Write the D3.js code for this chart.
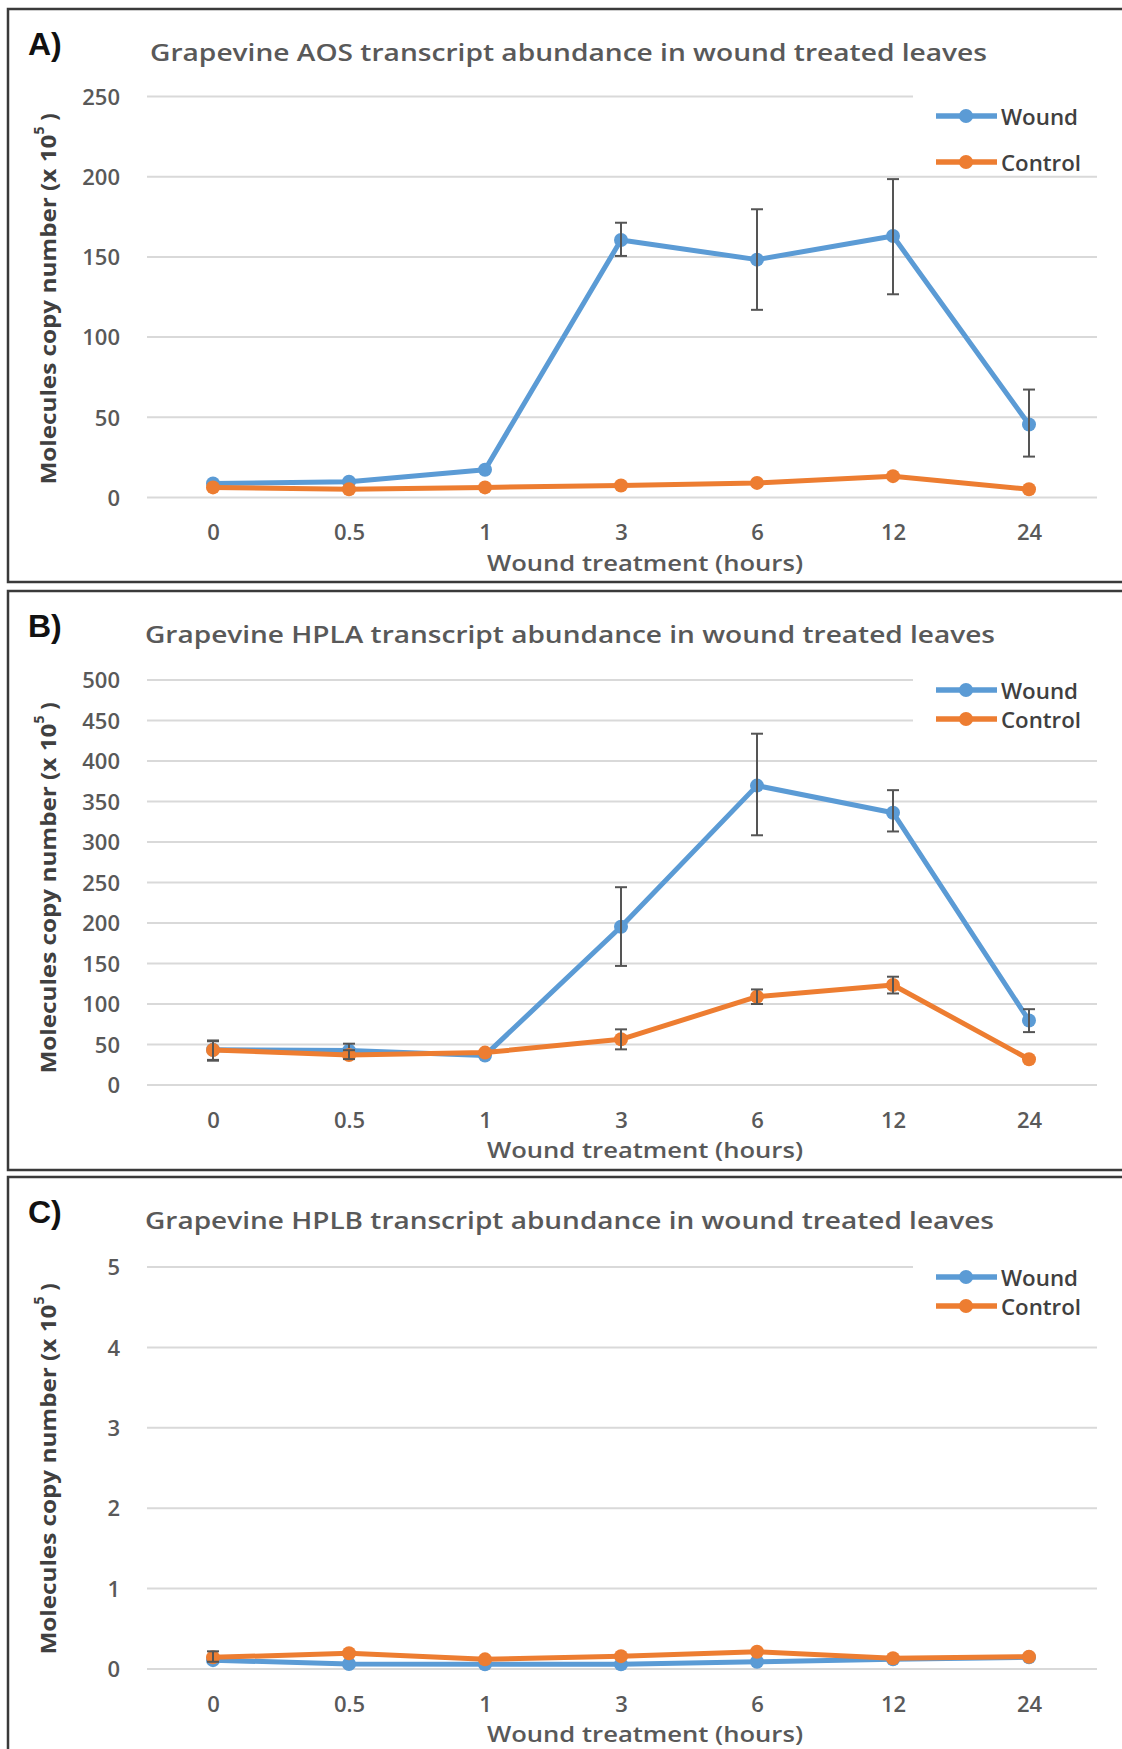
<!DOCTYPE html>
<html><head><meta charset="utf-8">
<script src="https://cdn.jsdelivr.net/npm/d3@7"></script>
<style>body{margin:0;background:#fff}svg{display:block}</style>
</head><body>
<script>
// ---------- DATA ----------
const categories = ["0","0.5","1","3","6","12","24"];
const seriesNames = ["Wound","Control"];

// Panel A: AOS
const aosTitle = "Grapevine AOS transcript abundance in wound treated leaves";
const aosTicks = [0,50,100,150,200,250];
const aosWound = [8.7, 9.8, 17.3, 160.5, 148.3, 163, 45.5];
const aosWoundLo = [null, null, null, 150.6, 117, 126.7, 25.5];
const aosWoundHi = [null, null, null, 171.3, 179.7, 198.5, 67.3];
const aosControl = [6.3, 5.1, 6.3, 7.5, 9.1, 13.3, 5.1];
const aosControlLo = [null, null, null, null, null, null, null];
const aosControlHi = [null, null, null, null, null, null, null];

// Panel B: HPLA
const hplaTitle = "Grapevine HPLA transcript abundance in wound treated leaves";
const hplaTicks = [0,50,100,150,200,250,300,350,400,450,500];
const hplaWound = [43.5, 42.5, 36.5, 195.4, 369.6, 336.2, 79.6];
const hplaWoundLo = [30, 34, null, 147, 308.3, 313, 65.3];
const hplaWoundHi = [55, 51, null, 244.2, 433.7, 364, 93.6];
const hplaControl = [43.2, 37, 40, 56.4, 109, 123.5, 31.8];
const hplaControlLo = [31, 32, null, 44, 100, 113, null];
const hplaControlHi = [54, 43, null, 68.7, 118, 133.7, null];

// Panel C: HPLB
const hplbTitle = "Grapevine HPLB transcript abundance in wound treated leaves";
const hplbTicks = [0,1,2,3,4,5];
const hplbWound = [0.11, 0.062, 0.058, 0.058, 0.09, 0.12, 0.145];
const hplbWoundLo = [null, null, null, null, null, null, null];
const hplbWoundHi = [null, null, null, null, null, null, null];
const hplbControl = [0.145, 0.195, 0.12, 0.16, 0.215, 0.133, 0.153];
const hplbControlLo = [0.09, null, null, null, null, null, null];
const hplbControlHi = [0.22, null, null, null, null, null, null];

const panelLabels = ["A)","B)","C)"];
const xTitle = "Wound treatment (hours)";

// ---------- STYLE / LAYOUT ----------
const W = 1122, H = 1749;
const blue = "#5B9BD5", orange = "#ED7D31";
const colors = [blue, orange];
const font = "'Open Sans', 'Liberation Sans', sans-serif";

const svg = d3.select("body").append("svg").attr("width", W).attr("height", H);

const panels = [
  {top: 9, bottom: 582, label: panelLabels[0], title: aosTitle, titleX0: 150, titleX1: 987,
   ticks: aosTicks, y0: 497.5, y1: 96.5, fullTopCount: 1,
   wound: [aosWound, aosWoundLo, aosWoundHi], control: [aosControl, aosControlLo, aosControlHi],
   legY: [116, 162], ytCenter: 299},
  {top: 591, bottom: 1170, label: panelLabels[1], title: hplaTitle, titleX0: 145, titleX1: 995,
   ticks: hplaTicks, y0: 1085, y1: 680, fullTopCount: 2,
   wound: [hplaWound, hplaWoundLo, hplaWoundHi], control: [hplaControl, hplaControlLo, hplaControlHi],
   legY: [690, 719], ytCenter: 888},
  {top: 1177, bottom: 1760, label: panelLabels[2], title: hplbTitle, titleX0: 145, titleX1: 994,
   ticks: hplbTicks, y0: 1669, y1: 1267, fullTopCount: 1,
   wound: [hplbWound, hplbWoundLo, hplbWoundHi], control: [hplbControl, hplbControlLo, hplbControlHi],
   legY: [1277, 1306], ytCenter: 1469}
];

const x = d3.scalePoint().domain(categories).range([145, 1097]).padding(0.5);

panels.forEach(p => {
  const g = svg.append("g");
  // border
  g.append("rect").attr("x", 8).attr("y", p.top).attr("width", W + 10).attr("height", p.bottom - p.top)
    .attr("fill", "none").attr("stroke", "#3a3a3a").attr("stroke-width", 2.5);

  // panel label
  g.append("text").attr("x", 28).attr("y", p.top + 35).attr("dominant-baseline", "central")
    .attr("font-family", "'Liberation Sans', Arial, sans-serif").attr("font-weight", "bold")
    .attr("font-size", 32).attr("fill", "#111").text(p.label);

  // title
  g.append("text").attr("x", p.titleX0).attr("y", p.top + 42).attr("dominant-baseline", "central")
    .attr("font-family", font).attr("font-size", 24).attr("font-weight", 600).attr("fill", "#595959")
    .attr("textLength", p.titleX1 - p.titleX0).attr("lengthAdjust", "spacingAndGlyphs")
    .text(p.title);

  const ymax = p.ticks[p.ticks.length - 1];
  const y = d3.scaleLinear().domain([0, ymax]).range([p.y0, p.y1]);

  // gridlines
  const nT = p.ticks.length;
  g.selectAll(".grid").data(p.ticks).join("line")
    .attr("x1", 147).attr("x2", (d, i) => i >= nT - p.fullTopCount ? 913 : 1097)
    .attr("y1", d => y(d)).attr("y2", d => y(d))
    .attr("stroke", "#d9d9d9").attr("stroke-width", 2);

  // y axis ticks via d3 axis
  const yAxis = d3.axisLeft(y).tickValues(p.ticks).tickSize(0).tickPadding(0).tickFormat(d3.format("d"));
  const ya = g.append("g").attr("transform", "translate(120,0)").call(yAxis);
  ya.select(".domain").remove();
  ya.selectAll("text").attr("font-family", font).attr("font-size", 22).attr("font-weight", 600)
    .attr("fill", "#595959").attr("dy", "0.35em");

  // x axis labels
  const xAxis = d3.axisBottom(x).tickSize(0).tickPadding(0);
  const xa = g.append("g").attr("transform", `translate(0,${p.y0 + 35})`).call(xAxis);
  xa.select(".domain").remove();
  xa.selectAll("text").attr("font-family", font).attr("font-size", 22).attr("font-weight", 600)
    .attr("fill", "#595959").attr("dy", "0.35em").attr("y", 0);

  // x title
  g.append("text").attr("x", 645).attr("y", p.y0 + 64).attr("text-anchor", "middle")
    .attr("dominant-baseline", "central").attr("font-family", font).attr("font-size", 22)
    .attr("font-weight", 600)
    .attr("fill", "#595959").attr("textLength", 316).attr("lengthAdjust", "spacingAndGlyphs")
    .text(xTitle);

  // y title
  const yt = g.append("text").attr("transform", `translate(47,${p.ytCenter}) rotate(-90)`)
    .attr("text-anchor", "middle").attr("dominant-baseline", "central")
    .attr("font-family", font).attr("font-weight", "bold").attr("font-size", 22).attr("fill", "#404040");
  yt.append("tspan").attr("textLength", 350).attr("lengthAdjust", "spacingAndGlyphs")
    .text("Molecules  copy number (x 10");
  yt.append("tspan").attr("font-size", 14).attr("dy", -9).text("5");
  yt.append("tspan").attr("dy", 9).text(" )");

  // series
  [p.wound, p.control].forEach((s, si) => {
    const [vals, lo, hi] = s;
    const pts = categories.map((c, i) => ({c, v: vals[i], lo: lo[i], hi: hi[i]}));
    const line = d3.line().x(d => x(d.c)).y(d => y(d.v));
    g.append("path").datum(pts).attr("d", line).attr("fill", "none")
      .attr("stroke", colors[si]).attr("stroke-width", 5).attr("stroke-linejoin", "round");
    g.selectAll(null).data(pts).join("circle").attr("cx", d => x(d.c)).attr("cy", d => y(d.v))
      .attr("r", 7).attr("fill", colors[si]);
    const eb = pts.filter(d => d.lo != null);
    const eg = g.append("g").attr("stroke", "#555").attr("stroke-width", 2);
    eg.selectAll(null).data(eb).join("line").attr("x1", d => x(d.c)).attr("x2", d => x(d.c))
      .attr("y1", d => y(d.lo)).attr("y2", d => y(d.hi));
    eg.selectAll(null).data(eb).join("line").attr("x1", d => x(d.c) - 6).attr("x2", d => x(d.c) + 6)
      .attr("y1", d => y(d.lo)).attr("y2", d => y(d.lo));
    eg.selectAll(null).data(eb).join("line").attr("x1", d => x(d.c) - 6).attr("x2", d => x(d.c) + 6)
      .attr("y1", d => y(d.hi)).attr("y2", d => y(d.hi));
  });

  // legend
  seriesNames.forEach((n, i) => {
    const ly = p.legY[i];
    g.append("line").attr("x1", 936).attr("x2", 997).attr("y1", ly).attr("y2", ly)
      .attr("stroke", colors[i]).attr("stroke-width", 5.5);
    g.append("circle").attr("cx", 966).attr("cy", ly).attr("r", 7).attr("fill", colors[i]);
    g.append("text").attr("x", 1001).attr("y", ly).attr("dominant-baseline", "central")
      .attr("font-family", font).attr("font-size", 22).attr("font-weight", 600).attr("fill", "#404040")
      .attr("textLength", i === 0 ? 77 : 80).attr("lengthAdjust", "spacingAndGlyphs").text(n);
  });
});
</script>
</body></html>
